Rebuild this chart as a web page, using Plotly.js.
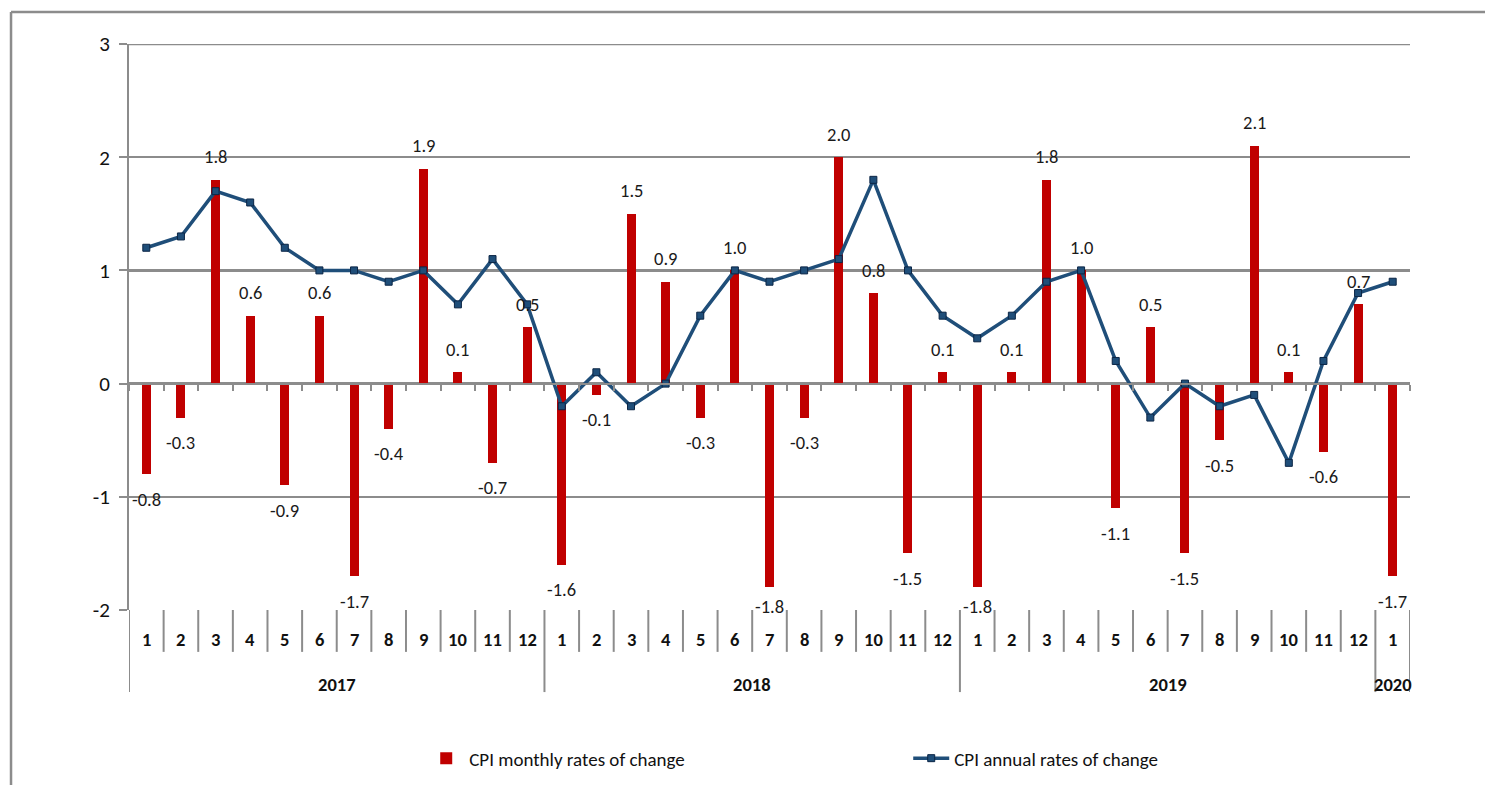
<!DOCTYPE html>
<html>
<head>
<meta charset="utf-8">
<script src="https://cdn.plot.ly/plotly-3.0.1.min.js"></script>
<style>
  html, body { margin: 0; padding: 0; background: #fff; }
  #chart { width: 1485px; height: 785px; }
</style>
</head>
<body>
<div id="chart"></div>
<script>
// ---- Data ----
const monthLabels = ['1','2','3','4','5','6','7','8','9','10','11','12',
                     '1','2','3','4','5','6','7','8','9','10','11','12',
                     '1','2','3','4','5','6','7','8','9','10','11','12',
                     '1'];
const yearLabels = ['2017','2018','2019','2020'];
const cpiMonthly = [-0.8,-0.3,1.8,0.6,-0.9,0.6,-1.7,-0.4,1.9,0.1,-0.7,0.5,
                    -1.6,-0.1,1.5,0.9,-0.3,1.0,-1.8,-0.3,2.0,0.8,-1.5,0.1,
                    -1.8,0.1,1.8,1.0,-1.1,0.5,-1.5,-0.5,2.1,0.1,-0.6,0.7,
                    -1.7];
const cpiAnnual = [1.2,1.3,1.7,1.6,1.2,1.0,1.0,0.9,1.0,0.7,1.1,0.7,
                   -0.2,0.1,-0.2,0.0,0.6,1.0,0.9,1.0,1.1,1.8,1.0,0.6,
                   0.4,0.6,0.9,1.0,0.2,-0.3,0.0,-0.2,-0.1,-0.7,0.2,0.8,
                   0.9];
const yTickVals = [-2, -1, 0, 1, 2, 3];
const yTickText = ['-2', '-1', '0', '1', '2', '3'];
const seriesNames = ['CPI monthly rates of change', 'CPI annual rates of change'];

// ---- Styling ----
const FONT = "Carlito, Calibri, 'Liberation Sans Narrow', 'Arial Narrow', 'Roboto Condensed', Roboto, sans-serif";
const GREY = '#8c8c8c';
const RED = '#C00000';
const BLUE = '#1F4E79';

const n = monthLabels.length;
const xs = monthLabels.map((_, i) => i);

// year groups from month labels
const groups = [];
monthLabels.forEach((m, i) => {
  if (m === '1') groups.push({ start: i, end: i });
  else groups[groups.length - 1].end = i;
});

const traces = [
  {
    type: 'bar', x: xs, y: cpiMonthly, name: seriesNames[0],
    width: 0.26, marker: { color: RED }, hoverinfo: 'skip'
  },
  {
    type: 'scatter', mode: 'lines+markers', x: xs, y: cpiAnnual, name: seriesNames[1],
    line: { color: BLUE, width: 3.5 },
    marker: { symbol: 'square', size: 7, color: BLUE, line: { color: '#0b2545', width: 1 } },
    hoverinfo: 'skip'
  }
];

const annotations = [];
// bar value labels
cpiMonthly.forEach((v, i) => {
  const shift = v >= 0 ? 23 : -Math.min(25, (2 - Math.abs(v)) * 113.2 - 4);
  annotations.push({
    x: i, y: v, xref: 'x', yref: 'y', text: v.toFixed(1), showarrow: false,
    yshift: shift, font: { family: FONT, size: 18.5, color: '#1a1a1a' }
  });
});
// month labels
monthLabels.forEach((m, i) => {
  annotations.push({
    x: i, y: -0.053, xref: 'x', yref: 'paper', text: '<b>' + m + '</b>', showarrow: false,
    yanchor: 'middle', font: { family: FONT, size: 18.5, color: '#111' }
  });
});
// year labels
groups.forEach((g, k) => {
  annotations.push({
    x: (g.start + g.end) / 2, y: -0.131, xref: 'x', yref: 'paper', text: '<b>' + yearLabels[k] + '</b>',
    showarrow: false, yanchor: 'middle', font: { family: FONT, size: 18.5, color: '#111' }
  });
});

const shapes = [];
const lineStyle = { color: GREY, width: 2 };
// month separators in category table
for (let k = 0; k <= n; k++) {
  const isYearBoundary = k === 0 || k === n || monthLabels[k] === '1';
  shapes.push({
    type: 'line', xref: 'x', yref: 'paper', x0: k - 0.5, x1: k - 0.5,
    y0: 0, y1: isYearBoundary ? -0.145 : -0.074, line: lineStyle
  });
}
// top gridline (range edge)
shapes.push({ type: 'line', xref: 'paper', yref: 'y', x0: 0, x1: 1, y0: yTickVals[yTickVals.length - 1], y1: yTickVals[yTickVals.length - 1], line: { color: GREY, width: 2.5 } });
// outer frame (top and left)
shapes.push({ type: 'line', xref: 'paper', yref: 'paper', x0: -0.0921, x1: 1.06, y0: 1.0565, y1: 1.0565, line: { color: GREY, width: 2.5 } });
shapes.push({ type: 'line', xref: 'paper', yref: 'paper', x0: -0.0921, x1: -0.0921, y0: 1.0565, y1: -0.32, line: { color: GREY, width: 2.5 } });

const layout = {
  width: 1485, height: 785,
  margin: { l: 129, r: 75, t: 44, b: 175 },
  paper_bgcolor: '#fff', plot_bgcolor: '#fff',
  font: { family: FONT, size: 17, color: '#111' },
  showlegend: true,
  legend: {
    orientation: 'h', xref: 'container', yref: 'container',
    x: 0.285, xanchor: 'left', y: 0.034, yanchor: 'middle',
    font: { family: FONT, size: 19, color: '#111' },
    entrywidth: 434, traceorder: 'normal', itemwidth: 36
  },
  bargap: 0,
  xaxis: {
    type: 'linear', range: [-0.5, n - 0.5], anchor: 'free', position: 0.4,
    showline: true, linecolor: GREY, linewidth: 2.5,
    ticks: 'outside', tickmode: 'array', tickvals: Array.from({ length: n + 1 }, (_, k) => k - 0.5),
    ticklen: 6, tickwidth: 2, tickcolor: GREY,
    showticklabels: false, showgrid: false, zeroline: false, fixedrange: true
  },
  yaxis: {
    range: [-2, 3], tickmode: 'array', tickvals: yTickVals, ticktext: yTickText,
    showgrid: true, gridcolor: GREY, gridwidth: 2.5, zeroline: false,
    showline: true, linecolor: GREY, linewidth: 2,
    ticks: 'outside', ticklen: 8, tickwidth: 2, tickcolor: GREY, ticklabelstandoff: 5,
    tickfont: { family: FONT, size: 21, color: '#111' }, fixedrange: true
  },
  annotations: annotations,
  shapes: shapes
};

Plotly.newPlot('chart', traces, layout, { displayModeBar: false, staticPlot: true });
</script>
</body>
</html>
